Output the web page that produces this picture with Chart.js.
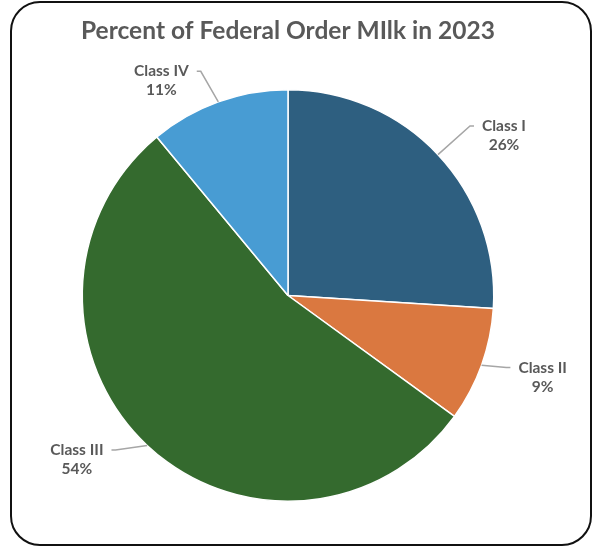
<!DOCTYPE html>
<html>
<head>
<meta charset="utf-8">
<script src="https://cdn.jsdelivr.net/npm/chart.js@4/dist/chart.umd.min.js"></script>
<style>
  html, body { margin: 0; padding: 0; background: #fff; }
  #wrap { position: relative; width: 600px; height: 551px; }
  #frame {
    position: absolute; left: 10px; top: 1px; width: 578px; height: 541px;
    border: 2px solid #111; border-radius: 30px; pointer-events: none;
  }
  canvas { position: absolute; left: 0; top: 0; }
</style>
</head>
<body>
<div id="wrap">
  <canvas id="pieChart" width="600" height="551"></canvas>
  <div id="frame"></div>
</div>
<script>
const categories = ['Class I', 'Class II', 'Class III', 'Class IV'];
const percents = [26, 9, 54, 11];
const sliceColors = ['#2E5F80', '#DA7840', '#346A2E', '#489CD3'];

// small nudges (px) for where each data label sits, like Excel's best fit
const labelNudge = [[21, 23], [3, -9], [-28, -31], [-36, 37]];

const textGray = '#595959';

const leaderLabels = {
  id: 'leaderLabels',
  afterDatasetsDraw(chart) {
    const ctx = chart.ctx;
    const meta = chart.getDatasetMeta(0);
    ctx.save();
    ctx.font = 'bold 15.5px Lato, "Open Sans", sans-serif';
    ctx.textAlign = 'center';
    ctx.textBaseline = 'middle';
    meta.data.forEach(function (arc, i) {
      const p = arc.getProps(['x', 'y', 'startAngle', 'endAngle', 'outerRadius'], true);
      const mid = (p.startAngle + p.endAngle) / 2;
      const r = p.outerRadius;
      const ex = p.x + Math.cos(mid) * r;
      const ey = p.y + Math.sin(mid) * r;
      const lx = p.x + Math.cos(mid) * r * 1.3 + labelNudge[i][0];
      const ly = p.y + Math.sin(mid) * r * 1.3 + labelNudge[i][1];
      const line1 = categories[i];
      const line2 = percents[i] + '%';
      const w = Math.max(ctx.measureText(line1).width, ctx.measureText(line2).width);
      const y1 = ly - 9.5;
      const y2 = ly + 9.5;
      const side = lx > p.x ? -1 : 1;
      const ax = lx + side * (w / 2 + 8);
      const bx = ax + side * 4;

      ctx.strokeStyle = '#A6A6A6';
      ctx.lineWidth = 1.5;
      ctx.beginPath();
      ctx.moveTo(ex, ey);
      ctx.lineTo(bx, y1);
      ctx.lineTo(ax, y1);
      ctx.stroke();

      ctx.fillStyle = textGray;
      ctx.fillText(line1, lx, y1);
      ctx.fillText(line2, lx, y2);
    });
    ctx.restore();
  }
};

new Chart(document.getElementById('pieChart'), {
  type: 'pie',
  data: {
    labels: categories,
    datasets: [{
      data: percents,
      backgroundColor: sliceColors,
      borderColor: '#ffffff',
      borderWidth: 1.5
    }]
  },
  options: {
    responsive: false,
    animation: false,
    events: [],
    layout: {
      padding: { left: 81, right: 105, top: 0, bottom: 49 }
    },
    plugins: {
      legend: { display: false },
      tooltip: { enabled: false },
      title: {
        display: true,
        text: 'Percent of Federal Order MIlk in 2023',
        color: textGray,
        font: { family: 'Lato, "Open Sans", sans-serif', size: 25, weight: 'bold' },
        padding: { top: 16, bottom: 43 }
      }
    }
  },
  plugins: [leaderLabels]
});
</script>
</body>
</html>
